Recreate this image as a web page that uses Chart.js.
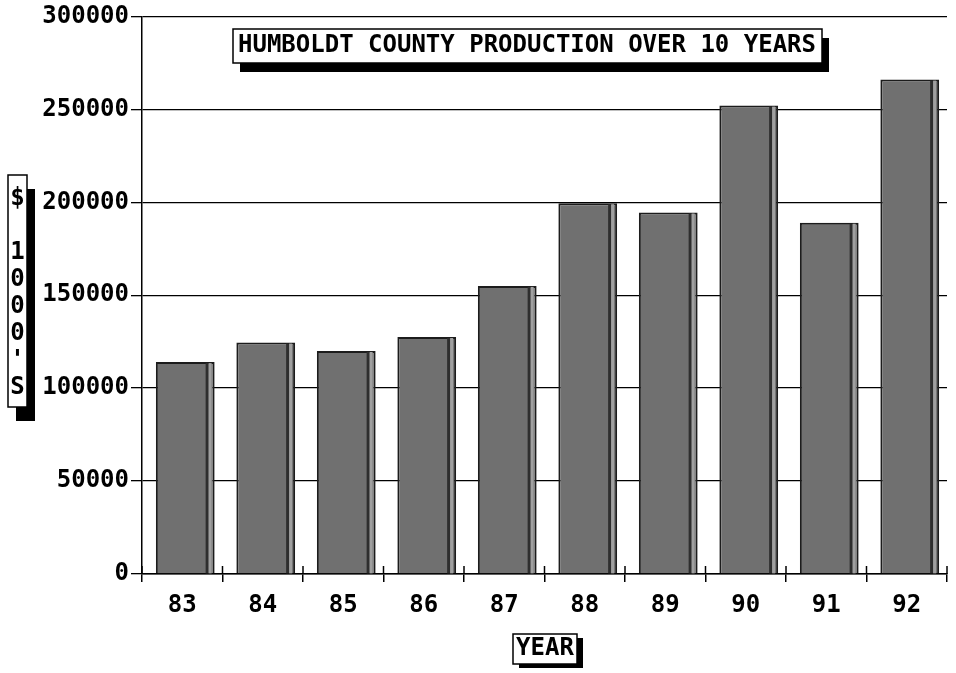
<!DOCTYPE html>
<html>
<head>
<meta charset="utf-8">
<script src="https://cdn.jsdelivr.net/npm/chart.js@4"></script>
<style>
  html, body { margin: 0; padding: 0; background: #fff; }
  #wrap { width: 956px; height: 673px; }
</style>
</head>
<body>
<div id="wrap"><canvas id="prod-chart" width="956" height="673"></canvas></div>
<script>
const years = ["83", "84", "85", "86", "87", "88", "89", "90", "91", "92"];
const production = [114000, 124500, 120000, 127500, 155000, 199500, 194500, 252000, 189000, 266000];
const yTicks = [0, 50000, 100000, 150000, 200000, 250000, 300000];
const chartTitle = "HUMBOLDT COUNTY PRODUCTION OVER 10 YEARS";
const yTitle = ["$", "", "1", "0", "0", "0", "'", "S"];
const xTitle = "YEAR";

const FONT = "'DejaVu Sans Mono', 'Liberation Mono', monospace";

// box with a solid drop shadow, like the old plotter output
function shadowBox(ctx, x, y, w, h, dx, dy) {
  ctx.fillStyle = "#000";
  ctx.fillRect(x + dx, y + dy, w, h);
  ctx.fillStyle = "#fff";
  ctx.fillRect(x, y, w, h);
  ctx.strokeStyle = "#000";
  ctx.lineWidth = 1.5;
  ctx.strokeRect(x, y, w, h);
}

const decorations = {
  id: "decorations",
  beforeDatasetsDraw(chart) {
    // bars sit a little right of the category centre in the original
    chart.ctx.save();
    chart.ctx.translate(3, 0);
  },
  afterDatasetsDraw(chart) {
    const ctx = chart.ctx;
    // dark stripe near the right side of each bar
    const meta = chart.getDatasetMeta(0);
    for (const bar of meta.data) {
      const right = bar.x + bar.width / 2;
      ctx.fillStyle = "#2e2e2e";
      ctx.fillRect(right - 9, bar.y + 1, 3, bar.base - bar.y - 1);
      ctx.fillStyle = "#a0a0a0";
      ctx.fillRect(right - 6, bar.y + 1, 3, bar.base - bar.y - 1);
    }
    ctx.restore();
  },
  afterDraw(chart) {
    const ctx = chart.ctx;
    const xs = chart.scales.x;
    const area = chart.chartArea;
    ctx.save();

    // upper half of the crosses on the x axis
    ctx.strokeStyle = "#000";
    ctx.lineWidth = 1.5;
    const step = xs.width / years.length;
    for (let i = 0; i <= years.length; i++) {
      const px = xs.left + i * step;
      ctx.beginPath();
      ctx.moveTo(px, area.bottom - 8);
      ctx.lineTo(px, area.bottom);
      ctx.stroke();
    }

    ctx.font = "bold 24px " + FONT;
    ctx.textAlign = "center";
    ctx.textBaseline = "middle";

    // main title
    shadowBox(ctx, 233, 29, 589, 34, 7, 9);
    ctx.fillStyle = "#000";
    ctx.fillText(chartTitle, 527, 46);

    // y axis title, stacked letters
    shadowBox(ctx, 8, 175, 19, 232, 8, 14);
    ctx.fillStyle = "#000";
    yTitle.forEach((ch, i) => {
      if (ch) ctx.fillText(ch, 17.5, 199 + i * 27);
    });

    // x axis title
    shadowBox(ctx, 513, 634, 64, 30, 6, 4);
    ctx.fillStyle = "#000";
    ctx.fillText(xTitle, 545, 649);

    ctx.restore();
  },
};

new Chart(document.getElementById("prod-chart").getContext("2d"), {
  type: "bar",
  data: {
    labels: years,
    datasets: [
      {
        label: "Production ($1000's)",
        data: production,
        backgroundColor: "#707070",
        borderColor: "#1c1c1c",
        borderWidth: 2,
        barPercentage: 0.73,
        categoryPercentage: 1,
      },
    ],
  },
  options: {
    responsive: false,
    animation: false,
    layout: { padding: { top: 16, right: 9, left: 0, bottom: 0 } },
    plugins: {
      legend: { display: false },
      tooltip: { enabled: false },
      title: { display: false },
    },
    scales: {
      x: {
        grid: {
          display: true,
          drawOnChartArea: false,
          tickLength: 8,
          color: "#000",
          lineWidth: 1.5,
        },
        border: { color: "#000", width: 1.5 },
        ticks: {
          color: "#000",
          font: { family: FONT, size: 24, weight: "bold" },
          padding: 9,
        },
        afterFit(scale) {
          scale.height = 99;
        },
      },
      y: {
        min: 0,
        max: 300000,
        afterBuildTicks(scale) {
          scale.ticks = yTicks.map((v) => ({ value: v }));
        },
        grid: { color: "#000", lineWidth: 1.3, tickLength: 11 },
        border: { color: "#000", width: 1.5 },
        ticks: {
          color: "#000",
          font: { family: FONT, size: 24, weight: "bold" },
          padding: 2,
          callback: (v) => String(v),
        },
        afterFit(scale) {
          scale.width = 142;
        },
      },
    },
  },
  plugins: [decorations],
});
</script>
</body>
</html>
